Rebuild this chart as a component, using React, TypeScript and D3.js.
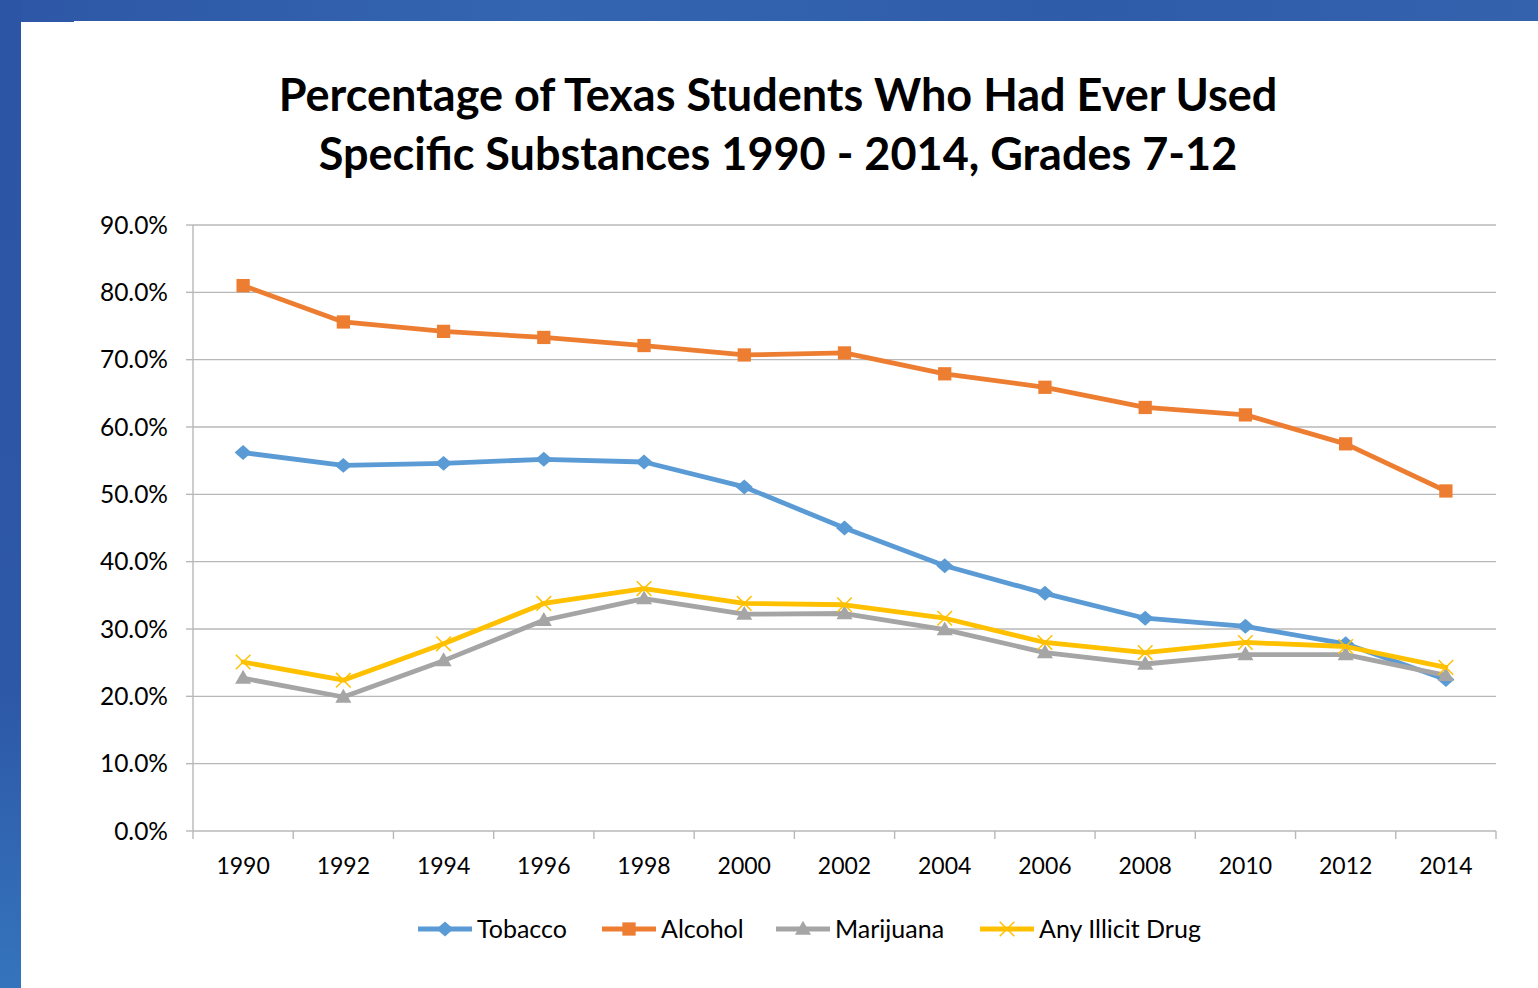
import React from "react";
import * as d3 from "d3";

// Survey years and the share of students who had ever used each substance
const years = ["1990","1992","1994","1996","1998","2000","2002","2004","2006","2008","2010","2012","2014"];
const tobacco = [56.2, 54.3, 54.6, 55.2, 54.8, 51.1, 45.0, 39.4, 35.3, 31.6, 30.4, 27.8, 22.5];
const alcohol = [81.0, 75.6, 74.2, 73.3, 72.1, 70.7, 71.0, 67.9, 65.9, 62.9, 61.8, 57.5, 50.5];
const marijuana = [22.7, 19.9, 25.3, 31.3, 34.5, 32.2, 32.3, 29.9, 26.5, 24.8, 26.2, 26.2, 23.1];
const anyIllicit = [25.1, 22.4, 27.8, 33.8, 36.0, 33.8, 33.6, 31.6, 28.0, 26.5, 28.0, 27.4, 24.3];
const yTicks = [0, 10, 20, 30, 40, 50, 60, 70, 80, 90];
const seriesNames = ["Tobacco", "Alcohol", "Marijuana", "Any Illicit Drug"];
const titleLines = [
  "Percentage of Texas Students Who Had Ever Used",
  "Specific Substances 1990 - 2014, Grades 7-12",
];

const FONT = "Lato, 'Open Sans', sans-serif";
const W = 1538;
const H = 988;

type Marker = "diamond" | "square" | "triangle" | "x";

const series: { name: string; values: number[]; color: string; marker: Marker }[] = [
  { name: seriesNames[0], values: tobacco, color: "#5b9bd5", marker: "diamond" },
  { name: seriesNames[1], values: alcohol, color: "#ed7d31", marker: "square" },
  { name: seriesNames[2], values: marijuana, color: "#a5a5a5", marker: "triangle" },
  { name: seriesNames[3], values: anyIllicit, color: "#ffc000", marker: "x" },
];

function MarkerShape({ kind, x, y, color }: { kind: Marker; x: number; y: number; color: string }) {
  if (kind === "diamond") {
    const p = d3.symbol().type(d3.symbolSquare).size(124)();
    return <path d={p || ""} transform={`translate(${x},${y}) scale(1.08,0.95) rotate(45)`} fill={color} />;
  }
  if (kind === "square") {
    const p = d3.symbol().type(d3.symbolSquare).size(176)();
    return <path d={p || ""} transform={`translate(${x},${y})`} fill={color} />;
  }
  if (kind === "triangle") {
    const p = d3.symbol().type(d3.symbolTriangle).size(112)();
    return <path d={p || ""} transform={`translate(${x},${y + 1})`} fill={color} />;
  }
  const r = 7.3;
  return (
    <g stroke={color} strokeWidth={1.5}>
      <line x1={x - r} y1={y - r} x2={x + r} y2={y + r} />
      <line x1={x - r} y1={y + r} x2={x + r} y2={y - r} />
    </g>
  );
}

export default function App() {
  const left = 193;
  const right = 1496;
  const top = 225;
  const bottom = 831;

  const x = d3.scaleBand<string>().domain(years).range([left, right]);
  const cx = (yr: string) => (x(yr) as number) + x.bandwidth() / 2;
  const y = d3.scaleLinear().domain([0, 90]).range([bottom, top]);
  const fmt = (v: number) => d3.format(".1f")(v) + "%";

  const line = d3
    .line<number>()
    .x((_, i) => cx(years[i]))
    .y((v) => y(v));

  const legendX = [418, 602, 776, 980];
  const legendY = 929;
  const axisColor = "#b8b8b8";

  return (
    <svg
      width={W}
      height={H}
      style={{ position: "absolute", left: 0, top: 0, display: "block" }}
      fontFamily={FONT}
    >
      <defs>
        <linearGradient id="bandTop" x1="0" x2="1" y1="0" y2="0">
          <stop offset="0" stopColor="#2d57a6" />
          <stop offset="0.35" stopColor="#3465b0" />
          <stop offset="0.7" stopColor="#2f5ca9" />
          <stop offset="1" stopColor="#3562ad" />
        </linearGradient>
        <linearGradient id="bandLeft" x1="0" x2="0" y1="0" y2="1">
          <stop offset="0" stopColor="#2c55a5" />
          <stop offset="0.7" stopColor="#2d58a7" />
          <stop offset="1" stopColor="#3574bd" />
        </linearGradient>
      </defs>

      {/* slide frame */}
      <rect x={0} y={0} width={W} height={H} fill="#ffffff" />
      <rect x={0} y={0} width={W} height={21} fill="url(#bandTop)" />
      <rect x={21} y={21} width={53} height={1} fill="#2e59a8" />
      <rect x={0} y={0} width={21} height={H} fill="url(#bandLeft)" />

      {/* title */}
      <text textAnchor="middle" fontWeight={700} fontSize={45} fill="#000">
        {titleLines.map((t, i) => (
          <tspan key={i} x={778} y={111 + i * 59}>
            {t}
          </tspan>
        ))}
      </text>

      {/* gridlines */}
      {yTicks.slice(1).map((t) => (
        <line key={t} x1={left} x2={right} y1={y(t)} y2={y(t)} stroke={axisColor} strokeWidth={1.4} />
      ))}

      {/* y axis */}
      <line x1={left} x2={left} y1={top} y2={bottom} stroke={axisColor} strokeWidth={1.4} />
      {yTicks.map((t) => (
        <g key={t}>
          <line x1={left - 7} x2={left} y1={y(t)} y2={y(t)} stroke={axisColor} strokeWidth={1.4} />
          <text x={168} y={y(t)} dy="0.35em" textAnchor="end" fontSize={24.5} fill="#000">
            {fmt(t)}
          </text>
        </g>
      ))}

      {/* x axis */}
      <line x1={left} x2={right} y1={bottom} y2={bottom} stroke={axisColor} strokeWidth={1.4} />
      {years.map((yr) => (
        <line
          key={"t" + yr}
          x1={x(yr) as number}
          x2={x(yr) as number}
          y1={bottom}
          y2={bottom + 8}
          stroke={axisColor}
          strokeWidth={1.4}
        />
      ))}
      <line x1={right} x2={right} y1={bottom} y2={bottom + 8} stroke={axisColor} strokeWidth={1.4} />
      {years.map((yr) => (
        <text key={"l" + yr} x={cx(yr)} y={874} textAnchor="middle" fontSize={23} fill="#000">
          {yr}
        </text>
      ))}

      {/* series */}
      {series.map((s) => (
        <g key={s.name}>
          <path
            d={line(s.values) || ""}
            fill="none"
            stroke={s.color}
            strokeWidth={4.8}
            strokeLinejoin="round"
            strokeLinecap="round"
          />
          {s.values.map((v, i) => (
            <MarkerShape key={i} kind={s.marker} x={cx(years[i])} y={y(v)} color={s.color} />
          ))}
        </g>
      ))}

      {/* legend */}
      {series.map((s, i) => (
        <g key={"lg" + s.name}>
          <line
            x1={legendX[i]}
            x2={legendX[i] + 54}
            y1={legendY}
            y2={legendY}
            stroke={s.color}
            strokeWidth={4.8}
          />
          <MarkerShape kind={s.marker} x={legendX[i] + 27} y={legendY} color={s.color} />
          <text x={legendX[i] + 59} y={legendY} dy="0.36em" fontSize={25} fill="#000">
            {s.name}
          </text>
        </g>
      ))}
    </svg>
  );
}
